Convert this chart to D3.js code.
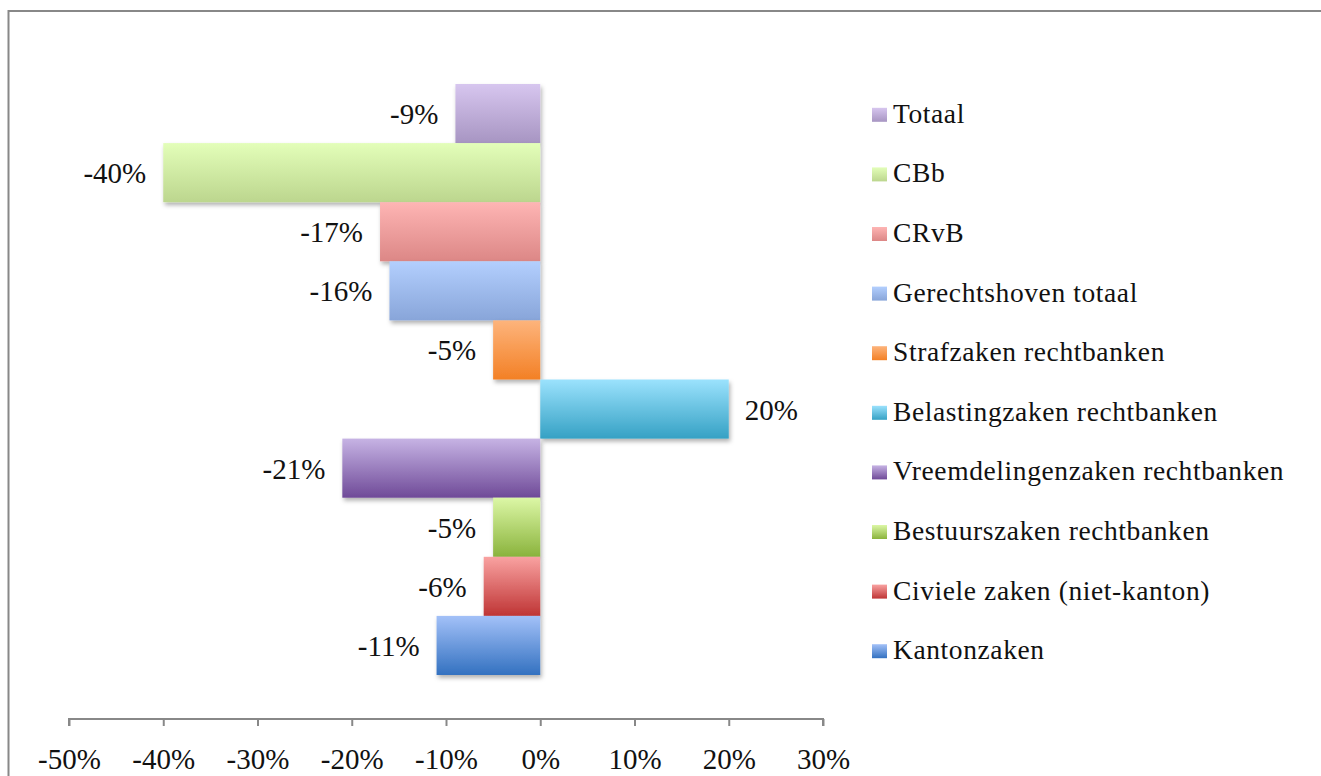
<!DOCTYPE html>
<html>
<head>
<meta charset="utf-8">
<script src="https://cdn.jsdelivr.net/npm/d3@7"></script>
<style>
  html, body { margin: 0; padding: 0; background: #fff; }
  svg { display: block; font-family: 'Liberation Serif', serif; }
</style>
</head>
<body>
<div id="chart"></div>
<script>
'use strict';

// categories, top to bottom
const categories = [
  'Totaal',
  'CBb',
  'CRvB',
  'Gerechtshoven totaal',
  'Strafzaken rechtbanken',
  'Belastingzaken rechtbanken',
  'Vreemdelingenzaken rechtbanken',
  'Bestuurszaken rechtbanken',
  'Civiele zaken (niet-kanton)',
  'Kantonzaken'
];

const values = [-9, -40, -17, -16, -5, 20, -21, -5, -6, -11];

const tickValues = [-50, -40, -30, -20, -10, 0, 10, 20, 30];

// gradient top / bottom colours per category
const colorsTop = ['#d7c6ef', '#e3feb9', '#feb5b4', '#b3cffe', '#fdb47c', '#9be2fd', '#c6b3e4', '#dcf7a6', '#f9a2a1', '#a3c1f8'];
const colorsBottom = ['#a795c2', '#bcd68e', '#dc8786', '#88a5d9', '#f38025', '#35a1c4', '#6f4a98', '#8ab33c', '#bf3535', '#3371c0'];

function Chart() {
  let self = {
    width: 1321,
    height: 776,
    plot: { left: 69, right: 823, top: 84, bottom: 675 },
    axisY: 719,
    legend: { x: 872, top: 84, bottom: 680, markerW: 15, markerH: 14, textX: 893 },
    svg: null
  };

  function init(target) {
    self.svg = target.append('svg')
      .attr('width', self.width).attr('height', self.height);

    // outer frame (only top and left edges are visible)
    self.svg.append('rect')
      .attr('x', 8.5).attr('y', 11)
      .attr('width', 1400).attr('height', 900)
      .style('fill', '#fff').style('stroke', '#888').style('stroke-width', 2);

    let defs = self.svg.append('defs');

    categories.forEach((c, i) => {
      let grad = defs.append('linearGradient').attr('id', 'grad' + i)
        .attr('x1', 0).attr('y1', 0).attr('x2', 0).attr('y2', 1);
      grad.append('stop').attr('offset', '0%').attr('stop-color', colorsTop[i]);
      grad.append('stop').attr('offset', '100%').attr('stop-color', colorsBottom[i]);
    });

    let shadow = defs.append('filter').attr('id', 'shadow')
      .attr('x', '-10%').attr('y', '-10%').attr('width', '130%').attr('height', '140%');
    shadow.append('feDropShadow')
      .attr('dx', 1.5).attr('dy', 3).attr('stdDeviation', 2)
      .attr('flood-color', '#000').attr('flood-opacity', 0.3);
  }

  function update() {
    let xScale = d3.scaleLinear().domain([-50, 30]).range([self.plot.left, self.plot.right]);
    let yScale = d3.scaleBand().domain(categories).range([self.plot.top, self.plot.bottom]).padding(0);

    let bars = self.svg.append('g').classed('bars', true);

    bars.selectAll('.bar').data(categories)
      .enter().append('rect').classed('bar', true)
      .attr('x', (d, i) => xScale(Math.min(0, values[i])))
      .attr('y', d => yScale(d))
      .attr('width', (d, i) => Math.abs(xScale(values[i]) - xScale(0)))
      .attr('height', yScale.bandwidth())
      .style('fill', (d, i) => `url(#grad${i})`)
      .attr('filter', 'url(#shadow)');

    // value labels
    bars.selectAll('.value').data(categories)
      .enter().append('text').classed('value', true)
      .attr('x', (d, i) => values[i] < 0 ? xScale(values[i]) - 17 : xScale(values[i]) + 16)
      .attr('y', d => yScale(d) + yScale.bandwidth() / 2 + 10.5)
      .attr('text-anchor', (d, i) => values[i] < 0 ? 'end' : 'start')
      .style('font-size', '29px').style('fill', '#111')
      .text((d, i) => `${values[i]}%`);

    // x axis
    let xAxis = d3.axisBottom(xScale)
      .tickValues(tickValues).tickSize(7).tickPadding(0)
      .tickFormat(d => `${d}%`);

    let axis = self.svg.append('g').classed('axis', true)
      .attr('transform', `translate(0,${self.axisY})`).call(xAxis);
    axis.select('.domain').attr('d', `M${self.plot.left},7V0H${self.plot.right}V7`)
      .style('stroke', '#888').style('stroke-width', 2);
    axis.selectAll('.tick line').style('stroke', '#888').style('stroke-width', 2);
    axis.selectAll('.tick text')
      .attr('y', 50).attr('dy', null)
      .style('font-family', "'Liberation Serif', serif")
      .style('font-size', '29px').style('fill', '#111');

    // legend
    let lScale = d3.scaleBand().domain(categories).range([self.legend.top, self.legend.bottom]);
    let legend = self.svg.append('g').classed('legend', true);
    let rows = legend.selectAll('.row').data(categories)
      .enter().append('g').classed('row', true)
      .attr('transform', d => `translate(0,${lScale(d) + lScale.bandwidth() / 2 + 9})`);

    rows.append('rect')
      .attr('x', self.legend.x).attr('y', -self.legend.markerH - 1)
      .attr('width', self.legend.markerW).attr('height', self.legend.markerH)
      .style('fill', (d, i) => `url(#grad${i})`);

    rows.append('text')
      .attr('x', self.legend.textX).attr('y', 0)
      .style('font-size', '27.5px').style('letter-spacing', '0.6px').style('fill', '#111')
      .text(d => d);
  }

  return { init, update };
}

let chart = Chart();
chart.init(d3.select('#chart'));
chart.update();
</script>
</body>
</html>
